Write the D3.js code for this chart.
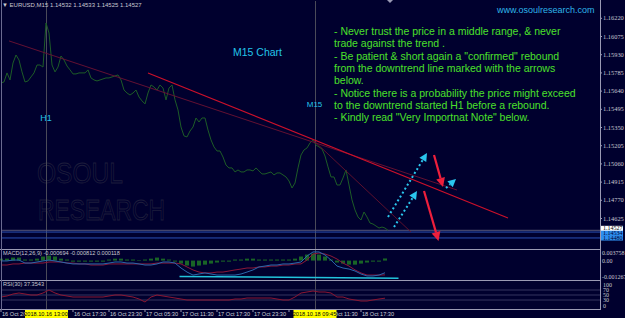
<!DOCTYPE html>
<html>
<head>
<meta charset="utf-8">
<title>EURUSD M15</title>
<script src="https://cdn.jsdelivr.net/npm/d3@7"></script>
<style>
  body { margin: 0; background: #00002e; }
  svg { display: block; font-family: "Liberation Sans", Arial, sans-serif; }
</style>
</head>
<body>
<div id="chart"></div>
<script>
"use strict"
// EURUSD M15, close every 30 min starting 16 Oct 2018 05:30
var startTime = "2018-10-16 05:30";
var closes = [
  1.15701, 1.15709, 1.15781, 1.15725, 1.15860, 1.15924, 1.15884, 1.15789, 1.15709, 1.15717,
  1.15749, 1.15781, 1.15844, 1.15844, 1.15828, 1.16179, 1.16099, 1.15844, 1.15789, 1.15828,
  1.15916, 1.15884, 1.15836, 1.15805, 1.15773, 1.15773, 1.15781, 1.15781, 1.15781, 1.15805,
  1.15741, 1.15725, 1.15717, 1.15725, 1.15733, 1.15741, 1.15741, 1.15749, 1.15757, 1.15765,
  1.15725, 1.15645, 1.15621, 1.15605, 1.15621, 1.15645, 1.15589, 1.15558, 1.15534, 1.15621,
  1.15685, 1.15669, 1.15645, 1.15685, 1.15661, 1.15566, 1.15661, 1.15685, 1.15566, 1.15486,
  1.15350, 1.15279, 1.15271, 1.15318, 1.15350, 1.15422, 1.15390, 1.15422, 1.15422, 1.15326,
  1.15247, 1.15191, 1.15159, 1.15159, 1.15111, 1.15047, 1.15024, 1.15024, 1.14992, 1.15008,
  1.14992, 1.14992, 1.15008, 1.15008, 1.15000, 1.15024, 1.15000, 1.14976, 1.14976, 1.14984,
  1.14992, 1.14968, 1.14984, 1.14984, 1.14968, 1.14952, 1.14920, 1.14864, 1.14904, 1.15024,
  1.15127, 1.15167, 1.15183, 1.15223, 1.15247, 1.15207, 1.15191, 1.15175, 1.15119, 1.15032,
  1.14952, 1.14952, 1.14888, 1.14888, 1.14944, 1.15008, 1.14888, 1.14769, 1.14689, 1.14633,
  1.14609, 1.14673, 1.14633, 1.14585, 1.14577, 1.14561, 1.14545, 1.14553, 1.14545, 1.14527
];
// indicators, one value per hour from the same start
var macdMain = [
  -0.00002, -0.00002, 0.00003, 0.00003, -0.00014, -0.00014, -0.00008, -0.00002, 0.00003, -0.00002,
  -0.00008, -0.00014, -0.00019, -0.00019, -0.00019, -0.00019, -0.00019, -0.00019, -0.00014, -0.00008,
  -0.00008, -0.00014, -0.00014, -0.00019, -0.00025, -0.00025, -0.00019, -0.00008, -0.00008, -0.00014,
  -0.00042, -0.00065, -0.00082, -0.00076, -0.00070, -0.00076, -0.00082, -0.00082, -0.00082, -0.00082,
  -0.00076, -0.00065, -0.00053, -0.00036, -0.00031, -0.00025, -0.00025, -0.00019, -0.00019, -0.00014,
  -0.00008, 0.00026, 0.00049, 0.00049, 0.00032, 0.00003, -0.00031, -0.00042, -0.00048, -0.00059,
  -0.00076, -0.00087, -0.00087, -0.00082, -0.00069
];
var macdSignal = [
  -0.00025, -0.00025, -0.00019, -0.00019, -0.00014, -0.00014, -0.00014, -0.00014, -0.00008, -0.00008,
  -0.00008, -0.00014, -0.00014, -0.00019, -0.00019, -0.00025, -0.00025, -0.00025, -0.00019, -0.00019,
  -0.00019, -0.00019, -0.00019, -0.00019, -0.00019, -0.00019, -0.00014, -0.00014, -0.00014, -0.00014,
  -0.00019, -0.00036, -0.00053, -0.00065, -0.00070, -0.00070, -0.00065, -0.00065, -0.00059, -0.00053,
  -0.00048, -0.00042, -0.00042, -0.00036, -0.00036, -0.00031, -0.00031, -0.00025, -0.00025, -0.00019,
  -0.00019, 0.00003, 0.00037, 0.00043, 0.00037, 0.00026, 0.00009, -0.00014, -0.00031, -0.00053,
  -0.00070, -0.00082, -0.00082, -0.00082, -0.00081
];
var macdHist = [
  0.00011, 0.00011, 0.00017, 0.00017, 0.00006, 0.00006, 0.00011, 0.00023, 0.00028, 0.00023,
  0.00011, 0.00006, -0.00006, -0.00006, -0.00006, -0.00006, -0.00006, -0.00006, 0.00006, 0.00011,
  0.00011, 0.00006, 0.00006, 0.00003, 0.00006, 0.00011, 0.00017, 0.00011, 0.00006, -0.00006,
  -0.00017, -0.00028, -0.00034, -0.00028, -0.00023, -0.00017, -0.00011, -0.00006, -0.00006, 0.00006,
  0.00006, 0.00011, 0.00011, 0.00006, 0.00006, 0.00006, 0.00006, 0.00006, 0.00006, 0.00011,
  0.00023, 0.00034, 0.00040, 0.00034, 0.00023, 0.00006, -0.00011, -0.00017, -0.00023, -0.00023,
  -0.00017, -0.00011, -0.00006, -0.00006, 0.00012
];
var rsi = [
  42, 46, 54, 58, 54, 50, 50, 58, 70, 58,
  50, 46, 42, 42, 42, 42, 42, 42, 46, 50,
  50, 46, 42, 34, 22, 42, 50, 46, 42, 38,
  34, 30, 30, 30, 30, 30, 30, 30, 30, 34,
  34, 38, 38, 38, 38, 38, 34, 30, 30, 42,
  58, 62, 66, 62, 62, 58, 42, 42, 34, 30,
  26, 26, 30, 34, 37.35
];

var priceTicks = [1.16220, 1.16075, 1.15930, 1.15785, 1.15640, 1.15495, 1.15350,
                  1.15205, 1.15060, 1.14915, 1.14770, 1.14625];
var rsiTicks = [100, 70, 50, 30, 0];
var rsiLevels = [70, 50, 30];
var macdTickLabels = ["0.003758", "0.00", "-0.001267"];
var timeTicks = ["2018-10-16 05:30", "2018-10-16 11:30", "2018-10-16 17:30", "2018-10-16 23:30",
                 "2018-10-17 05:30", "2018-10-17 11:30", "2018-10-17 17:30", "2018-10-17 23:30",
                 "2018-10-18 05:30", "2018-10-18 11:30", "2018-10-18 17:30"];
// first label is cut by the yellow box in the terminal, only "16 Oct 20" shows
var timeTickLabels = ["16 Oct 20", "16 Oct 11:30", "16 Oct 17:30", "16 Oct 23:30",
                      "17 Oct 05:30", "17 Oct 11:30", "17 Oct 17:30", "17 Oct 23:30",
                      "18 Oct 05:30", "18 Oct 11:30", "18 Oct 17:30"];
// vertical markers (H1 / M15 start)
var markerTimes = ["2018-10-16 13:00", "2018-10-18 09:45"];
var markerLabels = ["2018.10.16 13:00", "2018.10.18 09:45"];
var markerNames = ["H1", "M15"];
var markerNamePrices = [1.15400, 1.15510];
// horizontal levels
var bidPrice = 1.14527;
var levelPrices = [1.14513, 1.14466];
var levelLabels = ["1.14534", "1.14480"];
// trend lines [time, price] -> [time, price]
var trendLines = [
  [["2018-10-16 06:50", 1.16036], ["2018-10-19 09:30", 1.14848]],
  [["2018-10-17 06:00", 1.15781], ["2018-10-19 18:00", 1.14625]],
  [["2018-10-18 09:30", 1.15247], ["2018-10-19 01:50", 1.14513]]
];
var cyanArrows = [
  [["2018-10-18 22:00", 1.14633], ["2018-10-19 04:30", 1.15143]],
  [["2018-10-18 23:00", 1.14553], ["2018-10-19 02:50", 1.14840]],
  [["2018-10-19 07:40", 1.14864], ["2018-10-19 09:20", 1.14936]]
];
var redArrows = [
  [["2018-10-19 05:40", 1.15127], ["2018-10-19 07:10", 1.14872]],
  [["2018-10-19 04:00", 1.14840], ["2018-10-19 06:25", 1.14442]]
];
var macdLine = [["2018-10-17 11:15", -0.00090], ["2018-10-18 23:45", -0.00100]];
var header = "EURUSD,M15  1.14532 1.14533 1.14525 1.14527";
var macdTitle = "MACD(12,26,9) -0.000694 -0.000812 0.000118";
var rsiTitle = "RSI(30) 37.3543";
var chartName = "M15 Chart";
var site = "www.osoulresearch.com";
var notes = [
  "- Never trust the price in a middle range, & never",
  "trade against the trend .",
  "- Be patient & short again a \"confirmed\" rebound",
  "from the downtrend line marked with the arrows",
  "below.",
  "- Notice there is a probability the price might exceed",
  "to the downtrend started H1 before a rebound.",
  "- Kindly read \"Very Importnat Note\" below."
];

function desenha() {
  var W = 625, H = 318, plotRight = 600;
  var parse = d3.timeParse("%Y-%m-%d %H:%M");
  var t0 = parse(startTime);

  var x = d3.scaleTime().domain([t0, d3.timeHour.offset(t0, 100)]).range([1, 601]);
  var y = d3.scaleLinear().domain([1.14378, 1.16362]).range([249, 0]);
  var ym = d3.scaleLinear().domain([-0.0011, 0.0006]).range([280, 250]);
  var yr = d3.scaleLinear().domain([0, 100]).range([307.5, 282.5]);

  var svg = d3.select('#chart').append('svg').attr('width', W).attr('height', H);
  svg.append('rect').attr('width', W).attr('height', H).attr('fill', '#00002e');

  var P = function (p) { return [x(parse(p[0])), y(p[1])]; };

  // watermark (very faint outline)
  var wm = svg.append('g').attr('fill', 'none').attr('stroke', '#1e1e3c').attr('stroke-width', 0.8)
    .style('font-size', '29px');
  wm.append('text').attr('x', 37).attr('y', 183).attr('textLength', 86)
    .attr('lengthAdjust', 'spacingAndGlyphs').text('OSOUL');
  wm.append('text').attr('x', 38).attr('y', 220).attr('textLength', 127)
    .attr('lengthAdjust', 'spacingAndGlyphs').text('RESEARCH');

  // vertical markers
  markerTimes.forEach(function (t) {
    svg.append('line').attr('x1', Math.round(x(parse(t))) + 0.5).attr('x2', Math.round(x(parse(t))) + 0.5)
      .attr('y1', 1).attr('y2', 309).attr('stroke', '#4a4a58').attr('stroke-width', 1);
  });

  // horizontal levels
  svg.append('line').attr('x1', 1).attr('x2', plotRight).attr('y1', y(bidPrice)).attr('y2', y(bidPrice))
    .attr('stroke', '#56567a').attr('stroke-width', 1);
  levelPrices.forEach(function (p) {
    svg.append('line').attr('x1', 1).attr('x2', plotRight).attr('y1', y(p)).attr('y2', y(p))
      .attr('stroke', '#2a50b4').attr('stroke-width', 1);
  });

  // price line
  var line = d3.line()
    .x(function (d, i) { return x(d3.timeMinute.offset(t0, 30 * i)); })
    .y(function (d) { return y(d); });
  svg.append('path').datum(closes).attr('d', line)
    .attr('fill', 'none').attr('stroke', '#1d5c27').attr('stroke-width', 1);

  // trend lines
  var tlColors = ['#6e1232', '#cc102a', '#66122e'];
  trendLines.forEach(function (tl, i) {
    var a = P(tl[0]), b = P(tl[1]);
    svg.append('line').attr('x1', a[0]).attr('y1', a[1]).attr('x2', b[0]).attr('y2', b[1])
      .attr('stroke', tlColors[i]).attr('stroke-width', i === 1 ? 1.1 : 0.9);
  });

  function arrow(pts, color, dash, width, head) {
    var a = P(pts[0]), b = P(pts[1]);
    var dx = b[0] - a[0], dy = b[1] - a[1], len = Math.sqrt(dx * dx + dy * dy);
    var ux = dx / len, uy = dy / len;
    var bx = b[0] - ux * head, by = b[1] - uy * head;
    svg.append('line').attr('x1', a[0]).attr('y1', a[1]).attr('x2', bx).attr('y2', by)
      .attr('stroke', color).attr('stroke-width', width).attr('stroke-dasharray', dash);
    var hw = head * 0.5;
    svg.append('path')
      .attr('d', 'M' + b[0] + ',' + b[1] + 'L' + (bx - uy * hw) + ',' + (by + ux * hw) +
        'L' + (bx + uy * hw) + ',' + (by - ux * hw) + 'Z')
      .attr('fill', color);
  }
  cyanArrows.forEach(function (a) { arrow(a, '#2ac6ee', '2,2.6', 2, 8); });
  redArrows.forEach(function (a) { arrow(a, '#ee1f3c', null, 2.2, 9); });

  // texts on main chart
  svg.append('text').attr('x', 2).attr('y', 7).attr('fill', '#c8c8d0').style('font-size', '6px')
    .text('\u25BC ' + header);
  svg.append('text').attr('x', 497).attr('y', 13).attr('fill', '#2eb6ea').style('font-size', '9px').text(site);
  svg.append('text').attr('x', 233).attr('y', 56).attr('fill', '#22c4ea').style('font-size', '10.5px').text(chartName);
  markerTimes.forEach(function (t, i) {
    svg.append('text').attr('x', x(parse(t))).attr('y', y(markerNamePrices[i]))
      .attr('text-anchor', 'middle').attr('fill', '#22c4ea')
      .style('font-size', i === 0 ? '9px' : '8px').text(markerNames[i]);
  });
  var nt = svg.append('g').attr('fill', '#4be02a').style('font-size', '10.5px');
  notes.forEach(function (s, i) {
    nt.append('text').attr('x', 334).attr('y', 35 + i * 12.3).text(s);
  });

  // MACD panel
  svg.selectAll('.hist').data(macdHist).enter().append('rect')
    .attr('x', function (d, i) { return x(d3.timeHour.offset(t0, i)) - 2; })
    .attr('width', 4)
    .attr('y', function (d) { return Math.min(ym(d), ym(0)); })
    .attr('height', function (d) { return Math.abs(ym(d) - ym(0)); })
    .attr('fill', '#196426');
  var hline = function (sc) {
    return d3.line().x(function (d, i) { return x(d3.timeHour.offset(t0, i)); })
      .y(function (d) { return sc(d); });
  };
  svg.append('path').datum(macdSignal).attr('d', hline(ym))
    .attr('fill', 'none').attr('stroke', '#8c1838').attr('stroke-width', 1);
  svg.append('path').datum(macdMain).attr('d', hline(ym))
    .attr('fill', 'none').attr('stroke', '#2a68ac').attr('stroke-width', 1);
  var ma = [x(parse(macdLine[0][0])), ym(macdLine[0][1])], mb = [x(parse(macdLine[1][0])), ym(macdLine[1][1])];
  svg.append('line').attr('x1', ma[0]).attr('y1', ma[1]).attr('x2', mb[0]).attr('y2', mb[1])
    .attr('stroke', '#22c4dc').attr('stroke-width', 1.5);

  // RSI panel
  rsiLevels.forEach(function (v) {
    svg.append('line').attr('x1', 1).attr('x2', plotRight).attr('y1', yr(v)).attr('y2', yr(v))
      .attr('stroke', '#34345e').attr('stroke-width', 1);
  });
  svg.append('path').datum(rsi).attr('d', hline(yr))
    .attr('fill', 'none').attr('stroke', '#8a1632').attr('stroke-width', 1);

  // frames
  var frame = '#9a9ab4';
  [249.5, 280.5, 309.5].forEach(function (v) {
    svg.append('line').attr('x1', 0).attr('x2', plotRight + 1).attr('y1', v).attr('y2', v).attr('stroke', frame);
  });
  svg.append('line').attr('x1', 1.5).attr('x2', 1.5).attr('y1', 0).attr('y2', 310).attr('stroke', '#6a6a90');
  svg.append('line').attr('x1', plotRight + 0.5).attr('x2', plotRight + 0.5).attr('y1', 0).attr('y2', 310).attr('stroke', frame);
  svg.append('path').attr('d', 'M387,0L393,0L390,3Z').attr('fill', '#9a9ab4');

  svg.append('text').attr('x', 3).attr('y', 255).attr('fill', '#c8c8d0').style('font-size', '5.6px').text(macdTitle);
  svg.append('text').attr('x', 3).attr('y', 286).attr('fill', '#c8c8d0').style('font-size', '5.6px').text(rsiTitle);

  // right axis: price
  var ax = svg.append('g').attr('transform', 'translate(' + plotRight + ',0)')
    .call(d3.axisRight(y).tickValues(priceTicks).tickFormat(d3.format('.5f')).tickSize(2));
  ax.select('.domain').remove();
  ax.selectAll('line').attr('stroke', frame);
  ax.selectAll('text').attr('fill', '#c8c8d0').attr('x', 3)
    .style('font-family', '"Liberation Serif", serif').style('font-size', '6.4px');

  // price labels on axis
  function tag(p, txt, bg, fg) {
    var g = svg.append('g').attr('transform', 'translate(' + (plotRight + 1) + ',' + y(p) + ')');
    g.append('rect').attr('x', 0).attr('y', -2.6).attr('width', 22).attr('height', 5.2).attr('fill', bg);
    g.append('text').attr('x', 2).attr('y', 2).attr('fill', fg)
      .style('font-family', '"Liberation Serif", serif').style('font-size', '6px').text(txt);
  }
  tag(bidPrice + 0.00015, bidPrice.toFixed(5), '#ffffff', '#000000');
  levelPrices.forEach(function (p, i) { tag(p - 0.0001 * (i === 0 ? 1 : 0), levelLabels[i], '#2e8ef0', '#00002e'); });

  // MACD axis
  var mvals = [ym.domain()[1], 0, ym.domain()[0]];
  mvals.forEach(function (v, i) {
    var yy = ym(v) + (i === 0 ? 3 : (i === 2 ? -3 : 0));
    svg.append('text').attr('x', plotRight + 2).attr('y', yy + 2).attr('fill', '#c8c8d0')
      .style('font-family', '"Liberation Serif", serif').style('font-size', '6px').text(macdTickLabels[i]);
  });
  // RSI axis
  rsiTicks.forEach(function (v) {
    var yy = Math.max(285, Math.min(306, yr(v)));
    svg.append('text').attr('x', plotRight + 3).attr('y', yy + 2).attr('fill', '#c8c8d0')
      .style('font-family', '"Liberation Serif", serif').style('font-size', '6px').text(v);
  });

  // time axis
  var tg = svg.append('g');
  timeTicks.forEach(function (t, i) {
    var xx = x(parse(t));
    tg.append('line').attr('x1', xx).attr('x2', xx).attr('y1', 310).attr('y2', 312).attr('stroke', frame);
    // labels that sit fully under a marker box are skipped
    var hidden = markerTimes.some(function (m) { return Math.abs(x(parse(m)) - xx - 16) < 26; });
    if (hidden && i > 0) return;
    tg.append('text').attr('x', xx + 1).attr('y', 316).attr('fill', '#d0d0d8').style('font-size', '5.6px')
      .text(timeTickLabels[i]);
  });
  markerTimes.forEach(function (t, i) {
    var xx = x(parse(t));
    tg.append('rect').attr('x', xx - 21).attr('y', 310).attr('width', 43).attr('height', 8).attr('fill', '#ffff00');
    tg.append('text').attr('x', xx).attr('y', 316).attr('text-anchor', 'middle').attr('fill', '#000')
      .style('font-size', '5.6px').text(markerLabels[i]);
  });
}
desenha();
</script>
</body>
</html>
